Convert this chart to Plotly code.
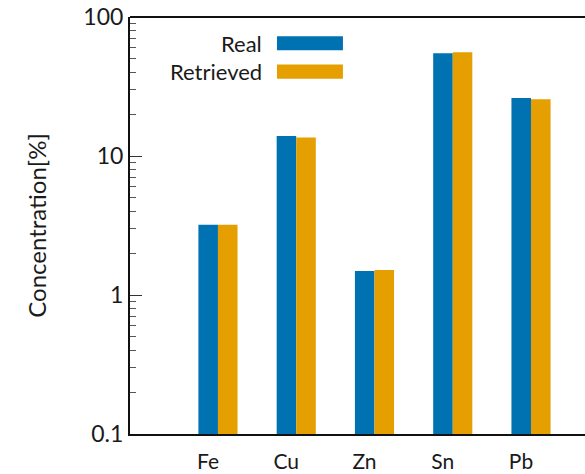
import plotly.graph_objects as go

elements = ["Fe", "Cu", "Zn", "Sn", "Pb"]
real = [3.2, 13.9, 1.49, 54.8, 26.1]
retrieved = [3.2, 13.6, 1.51, 55.7, 25.6]
series_names = ["Real", "Retrieved"]
colors = ["#0072B2", "#E69F00"]
ytick_vals = [0.1, 1, 10, 100]
ytick_text = ["0.1", "1", "10", "100"]

xpos = list(range(len(elements)))
FONT = "Lato"
TXT = "#1a1a1a"

fig = go.Figure()
for name, vals, col in zip(series_names, [real, retrieved], colors):
    fig.add_trace(go.Bar(x=xpos, y=vals, name=name, marker=dict(color=col, line=dict(width=0)),
                         showlegend=False))

# custom legend (text right-aligned, swatch to the right)
leg_rows = [0.937, 0.869]
for name, col, yc in zip(series_names, colors, leg_rows):
    fig.add_shape(type="rect", xref="paper", yref="paper", x0=0.323, x1=0.468,
                  y0=yc - 0.017, y1=yc + 0.017, fillcolor=col, line=dict(width=0))
    fig.add_annotation(text=name, xref="paper", yref="paper", x=0.295, y=yc,
                       xanchor="right", yanchor="middle", showarrow=False,
                       font=dict(family=FONT, size=22, color=TXT))

# cover any right-edge border (reference shows none)
fig.add_shape(type="line", xref="paper", yref="paper", x0=1, x1=1, y0=0.006, y1=0.994,
              line=dict(color="white", width=4))
# top frame line
fig.add_shape(type="line", xref="paper", yref="paper", x0=0, x1=1, y0=1, y1=1,
              line=dict(color="#111", width=2))

fig.update_layout(
    width=585, height=474,
    margin=dict(l=130, r=0, t=17, b=40, autoexpand=False),
    paper_bgcolor="white", plot_bgcolor="white",
    barmode="group", bargap=0.5, bargroupgap=0,
    font=dict(family=FONT, size=20, color=TXT),
)
fig.update_xaxes(
    range=[-1.124, 4.69], tickvals=xpos, ticktext=elements,
    showline=True, linecolor="#111", linewidth=2, mirror=False,
    showgrid=False, zeroline=False, ticks="", ticklabelstandoff=8, ticklabelshift=-10,
    tickfont=dict(family=FONT, size=21, color=TXT), automargin=False,
)
fig.update_yaxes(
    type="log", range=[-1, 2], tickvals=ytick_vals, ticktext=ytick_text,
    showline=True, linecolor="#111", linewidth=2, mirror=False,
    showgrid=False, zeroline=False,
    ticks="inside", ticklen=12, tickwidth=1, tickcolor="#333",
    minor=dict(ticks="inside", ticklen=6, tickwidth=1, tickcolor="#555", showgrid=False, dtick="D1"),
    title=dict(text="Concentration[%]", font=dict(family=FONT, size=24, color=TXT), standoff=30),
    tickfont=dict(family=FONT, size=23, color=TXT), automargin=False,
)

fig.write_html("out.html")
